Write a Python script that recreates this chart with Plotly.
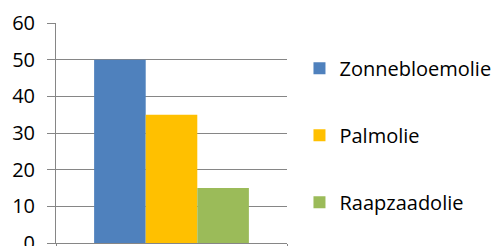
import plotly.graph_objects as go

categories = [""]
series_names = ["Zonnebloemolie", "Palmolie", "Raapzaadolie"]
series_values = [50, 35, 15]
series_colors = ["#4F81BD", "#FFC000", "#9BBB59"]
y_ticks = [0, 10, 20, 30, 40, 50, 60]

fig = go.Figure()
for name, val, col in zip(series_names, series_values, series_colors):
    fig.add_trace(go.Bar(x=categories, y=[val], name=name, marker=dict(color=col, line=dict(width=0)),
                         legendgroup=name))

font = dict(family="Open Sans, sans-serif", size=20, color="#000000")
fig.update_layout(
    width=501, height=246,
    margin=dict(l=56, r=214, t=23, b=3, pad=0, autoexpand=False),
    paper_bgcolor="white", plot_bgcolor="white",
    barmode="group", bargap=0.33, bargroupgap=0,
    font=font,
    showlegend=True,
    legend=dict(x=1.054, y=0.883, xanchor="left", yanchor="top", traceorder="grouped",
                tracegroupgap=38, font=font, bgcolor="rgba(0,0,0,0)", itemwidth=30),
    xaxis=dict(showgrid=False, showline=True, linecolor="#868686", linewidth=1,
               ticks="outside", ticklen=5, tickcolor="#868686", tickson="boundaries",
               showticklabels=False, range=[-0.5, 0.5], automargin=False),
    yaxis=dict(range=[0, 60], tickvals=y_ticks, showgrid=True, gridcolor="#868686", gridwidth=1,
               showline=True, linecolor="#868686", linewidth=1, ticks="outside", ticklen=8,
               tickcolor="#868686", ticklabelstandoff=8, zeroline=False, tickfont=font,
               automargin=False, ticklabeloverflow="allow"),
)
fig.write_html("out.html", config={"displayModeBar": False},
               post_script="document.body.style.margin='0';document.body.style.overflow='hidden';")
